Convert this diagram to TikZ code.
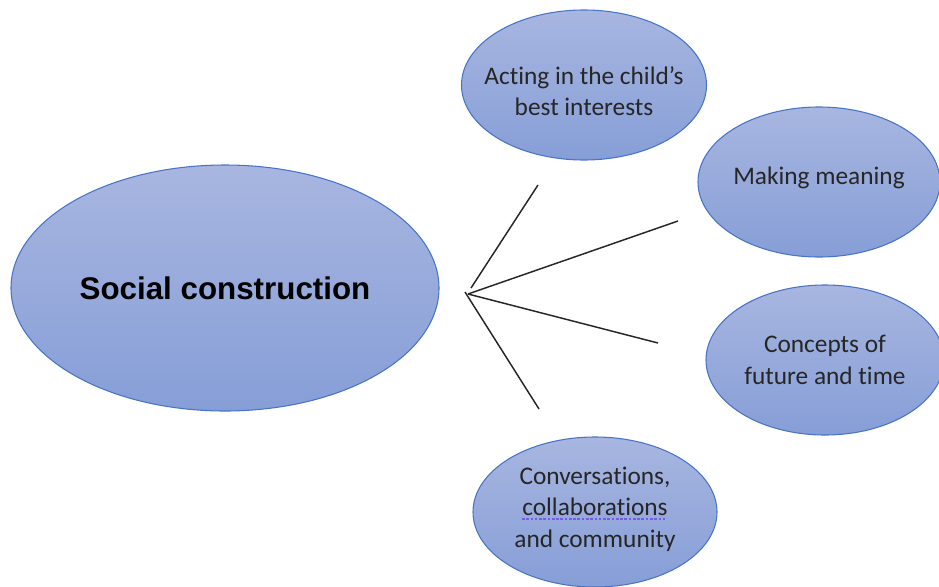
\documentclass[tikz,border=0pt]{standalone}
\usepackage{fontspec}
\setmainfont[Ligatures={NoCommon}]{Carlito}
\newfontfamily\headfont{Liberation Sans}
\usetikzlibrary{shapes.geometric,calc}
\definecolor{bubtop}{RGB}{168,182,224}
\definecolor{bubbot}{RGB}{134,158,215}
\definecolor{bubedge}{RGB}{72,116,200}
\definecolor{spell}{RGB}{120,90,230}
\begin{document}
\begin{tikzpicture}[x=0.75pt,y=-0.75pt,
  bubble/.style={ellipse,draw=bubedge,line width=0.8pt,top color=bubtop,bottom color=bubbot,
    inner sep=0pt},
  label/.style={inner sep=0pt,align=center,text=black!85,font=\fontsize{19}{23.5}\selectfont},
  spoke/.style={draw=black!85,line width=1.1pt}]
\useasboundingbox (0,0) rectangle (939,586);
% central bubble
\node[bubble,minimum width=321pt,minimum height=184.5pt] (main) at (225,288) {};
\node[label,font=\headfont\bfseries\fontsize{23.5}{28}\selectfont,text=black]
  (mainT) at (main.center) {Social construction};
% surrounding bubbles
\node[bubble,minimum width=183.75pt,minimum height=112.5pt] (act) at (584,85) {};
\node[label] (actT) at ($(act.center)+(0,6)$) {Acting in the child’s\\best interests};
\node[bubble,minimum width=181.5pt,minimum height=112.5pt] (mean) at (819,182) {};
\node[label] (meanT) at ($(mean.center)+(0,-4)$) {Making meaning};
\node[bubble,minimum width=178.5pt,minimum height=112.5pt] (conc) at (825,360) {};
\node[label] (concT) at (conc.center) {Concepts of\\future and time};
\node[bubble,minimum width=183pt,minimum height=112.5pt] (conv) at (595,512) {};
\node[label] (convT) at ($(conv.center)+(0,-3)$) {Conversations,\\collaborations\\and community};
% spell-check underline beneath the middle word
\draw[spell,line width=1pt,dash pattern=on 2pt off 1.2pt]
  ($(convT.center)+(-73,10)$) -- ($(convT.center)+(72,10)$);
% spokes fanning out from the hub
\coordinate (hub) at (468,294);
\coordinate (hubA) at (471,288);
\coordinate (hubD) at (465,292);
\coordinate (endA) at (538,185);
\coordinate (endB) at (678,221);
\coordinate (endC) at (658,343);
\coordinate (endD) at (539,409);
\draw[spoke] (hubA) -- (endA);
\draw[spoke] (hub) -- (endB);
\draw[spoke] (hub) -- (endC);
\draw[spoke] (hubD) -- (endD);
\end{tikzpicture}
\end{document}
